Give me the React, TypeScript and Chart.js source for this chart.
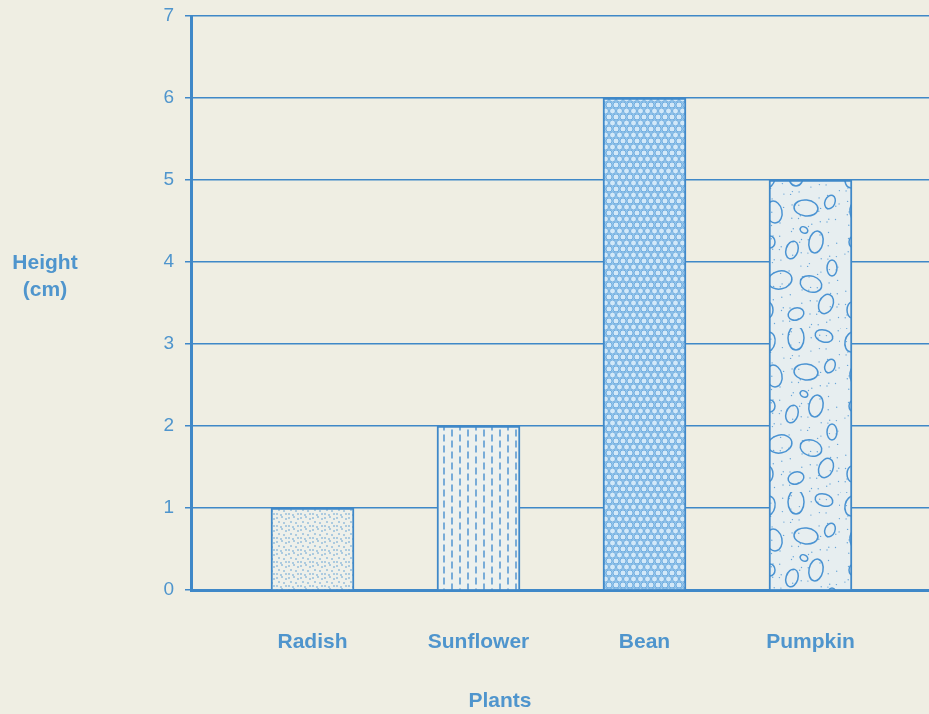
import React, { useEffect, useRef } from 'react';
import { Chart, registerables } from 'chart.js';
Chart.register(...registerables);

const plants = ['Radish', 'Sunflower', 'Bean', 'Pumpkin'];
const heights = [1, 2, 6, 5];
const yTicks = [0, 1, 2, 3, 4, 5, 6, 7];
const yTitle = ['Height', '(cm)'];
const xTitle = 'Plants';

const BLUE = '#3f88c8';
const TEXT = '#4f95cd';
const BG = '#efeee3';
const FONT = '"Liberation Sans", Arial, sans-serif';

function makeTile(w: number, h: number, draw: (g: CanvasRenderingContext2D, w: number, h: number) => void) {
  const c = document.createElement('canvas');
  c.width = w;
  c.height = h;
  const g = c.getContext('2d')!;
  draw(g, w, h);
  return c;
}

function dotsTile() {
  return makeTile(12, 12, (g, w, h) => {
    g.fillStyle = '#eef0ea';
    g.fillRect(0, 0, w, h);
    g.fillStyle = '#5b9bd2';
    const pts = [[1, 2], [6, 1], [10, 3], [3, 6], [8, 7], [1, 10], [5, 11], [10, 10]];
    pts.forEach(([x, y]) => { g.beginPath(); g.arc(x, y, 0.8, 0, Math.PI * 2); g.fill(); });
  });
}

function dashTile() {
  return makeTile(16, 11, (g, w, h) => {
    g.fillStyle = '#edf1ee';
    g.fillRect(0, 0, w, h);
    g.strokeStyle = '#5b9bd2';
    g.lineWidth = 1.6;
    g.beginPath(); g.moveTo(4, 0.5); g.lineTo(4, 7.5); g.stroke();
    g.beginPath(); g.moveTo(12, 5.5); g.lineTo(12, 12.5); g.stroke();
    g.beginPath(); g.moveTo(12, -5.5); g.lineTo(12, 1.5); g.stroke();
  });
}

function hexTile() {
  return makeTile(7, 12, (g, w, h) => {
    g.fillStyle = '#9dccef';
    g.fillRect(0, 0, w, h);
    g.fillStyle = '#d2e8f8';
    g.strokeStyle = '#6aa8dc';
    g.lineWidth = 0.9;
    const cs = [[3.5, 3], [0, 9], [7, 9], [0, -3], [7, -3], [3.5, 15], [0, 15], [7, 15]];
    cs.forEach(([x, y]) => { g.beginPath(); g.arc(x, y, 3, 0, Math.PI * 2); g.fill(); g.stroke(); });
  });
}

function pebbleTile() {
  return makeTile(84, 164, (g, w, h) => {
    g.fillStyle = '#e7eef0';
    g.fillRect(0, 0, w, h);
    g.fillStyle = '#6aa6d8';
    for (let i = 0; i < 140; i++) {
      const x = (i * 37.3) % w;
      const y = (i * 53.7 + (i % 7) * 11) % h;
      g.beginPath(); g.arc(x, y, 0.7, 0, Math.PI * 2); g.fill();
    }
    const els = [
      [12, 14, 7, 10, 0.2], [40, 10, 8, 12, 0], [68, 8, 9, 6, 0.3], [18, 48, 8, 11, -0.2],
      [50, 44, 12, 8, 0.1], [74, 38, 5, 7, 0.4], [14, 78, 5, 6, 0], [36, 86, 6, 9, 0.3],
      [60, 78, 7, 11, 0.2], [76, 104, 5, 8, 0], [24, 116, 12, 9, -0.2], [55, 120, 11, 8, 0.3],
      [12, 146, 5, 8, 0], [40, 150, 8, 6, -0.3], [70, 140, 7, 10, 0.4], [48, 66, 4, 3, 0.5]
    ];
    g.strokeStyle = '#4a93d2';
    g.lineWidth = 1.5;
    els.forEach(([x, y, rx, ry, r]) => { g.beginPath(); g.ellipse(x, y, rx, ry, r, 0, Math.PI * 2); g.stroke(); });
  });
}

export default function App() {
  const ref = useRef<HTMLCanvasElement>(null);
  useEffect(() => {
    document.body.style.margin = '0';
    document.body.style.overflow = 'hidden';
    const canvas = ref.current!;
    const ctx = canvas.getContext('2d')!;
    const patterns = [dotsTile(), dashTile(), hexTile(), pebbleTile()].map(t => ctx.createPattern(t, 'repeat'));

    const bgPlugin = {
      id: 'bg',
      beforeDraw(chart: any) {
        const c = chart.ctx;
        c.save();
        c.fillStyle = BG;
        c.fillRect(0, 0, chart.width, chart.height);
        c.restore();
      },
      afterDraw(chart: any) {
        const c = chart.ctx;
        c.save();
        c.fillStyle = TEXT;
        c.font = `bold 21px ${FONT}`;
        c.textAlign = 'center';
        c.textBaseline = 'middle';
        c.fillText(yTitle[0], 45, 263);
        c.fillText(yTitle[1], 45, 290);
        c.fillText(xTitle, 500, 701);
        c.restore();
      }
    };

    const chart = new Chart(canvas, {
      type: 'bar',
      data: {
        datasets: [{
          data: plants.map((p, i) => ({ x: i + 1, y: heights[i] })) as any,
          backgroundColor: patterns as any,
          borderColor: BLUE,
          borderWidth: 2,
          barThickness: 83,
        }]
      },
      options: {
        responsive: false,
        animation: false,
        layout: { padding: { top: 16, right: 0, left: 0, bottom: 0 } },
        plugins: { legend: { display: false }, tooltip: { enabled: false } },
        scales: {
          x: {
            type: 'linear',
            offset: false,
            min: 0.268,
            max: 4.714,
            afterBuildTicks: (s: any) => { s.ticks = plants.map((_, i) => ({ value: i + 1 })); },
            afterFit: (s: any) => { s.height = 124; s.paddingLeft = 0; s.paddingRight = 0; },
            ticks: {
              callback: (v: any) => plants[Math.round(v) - 1] ?? '',
              color: TEXT,
              font: { family: FONT, size: 21, weight: 'bold' },
              padding: 40,
              autoSkip: false,
              maxRotation: 0,
            },
            grid: { display: true, color: 'rgba(0,0,0,0)', drawTicks: false },
            border: { display: true, color: BLUE, width: 3 },
          },
          y: {
            min: 0,
            max: 7,
            afterBuildTicks: (s: any) => { s.ticks = yTicks.map(v => ({ value: v })); },
            afterFit: (s: any) => { s.width = 191; s.paddingTop = 0; s.paddingBottom = 0; },
            ticks: { color: TEXT, font: { family: FONT, size: 19 }, padding: 11 },
            grid: { color: BLUE, lineWidth: 1.5, tickLength: 6 },
            border: { display: true, color: BLUE, width: 3 },
          }
        }
      },
      plugins: [bgPlugin]
    } as any);
    return () => chart.destroy();
  }, []);
  return <canvas ref={ref} width={929} height={714} style={{ display: 'block', width: 929, height: 714 }} />;
}
